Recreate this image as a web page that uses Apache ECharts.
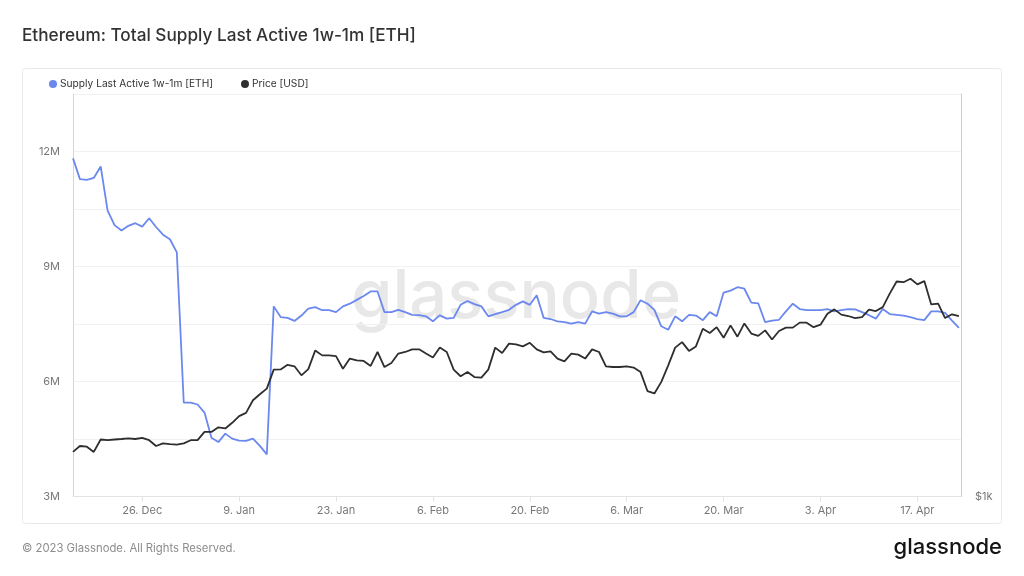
<!DOCTYPE html>
<html>
<head>
<meta charset="utf-8">
<script src="https://cdn.jsdelivr.net/npm/echarts/dist/echarts.min.js"></script>
<style>
  html, body { margin: 0; padding: 0; background: #ffffff; }
  #chart { width: 1024px; height: 576px; }
</style>
</head>
<body>
<div id="chart"></div>
<script>
// ---- Data ----
const startDate = '2022-12-16'; // first daily observation; last is 2023-04-23
const supplyETH = [
  11.82, 11.28, 11.26, 11.31, 11.61, 10.46, 10.08, 9.94, 10.06, 10.13,
  10.04, 10.26, 10.03, 9.83, 9.71, 9.37, 5.45, 5.45, 5.40, 5.19,
  4.53, 4.42, 4.64, 4.51, 4.46, 4.45, 4.51, 4.32, 4.10, 7.96,
  7.68, 7.66, 7.58, 7.72, 7.90, 7.94, 7.86, 7.86, 7.81, 7.96,
  8.03, 8.13, 8.23, 8.35, 8.35, 7.81, 7.81, 7.87, 7.81, 7.74,
  7.73, 7.70, 7.57, 7.73, 7.64, 7.66, 8.00, 8.10, 8.02, 7.96,
  7.70, 7.76, 7.81, 7.87, 8.00, 8.09, 8.00, 8.25, 7.66, 7.63,
  7.57, 7.55, 7.51, 7.55, 7.51, 7.83, 7.77, 7.81, 7.77, 7.70,
  7.70, 7.81, 8.12, 8.03, 7.87, 7.44, 7.35, 7.70, 7.57, 7.74,
  7.72, 7.60, 7.81, 7.70, 8.32, 8.37, 8.46, 8.42, 8.06, 8.04,
  7.55, 7.59, 7.61, 7.83, 8.03, 7.89, 7.86, 7.86, 7.86, 7.89,
  7.83, 7.86, 7.89, 7.88, 7.81, 7.73, 7.64, 7.89, 7.76, 7.74,
  7.72, 7.68, 7.63, 7.60, 7.83, 7.83, 7.79, 7.59, 7.40
]; // millions of ETH
const priceUSD = [
  1166, 1190, 1187, 1166, 1217, 1214, 1217, 1219, 1222, 1219,
  1224, 1214, 1190, 1201, 1198, 1196, 1201, 1214, 1214, 1249,
  1249, 1269, 1264, 1289, 1319, 1334, 1393, 1422, 1450, 1548,
  1549, 1574, 1566, 1518, 1551, 1654, 1626, 1626, 1622, 1553,
  1608, 1598, 1595, 1568, 1645, 1562, 1584, 1636, 1645, 1660,
  1660, 1636, 1614, 1670, 1645, 1548, 1513, 1535, 1509, 1506,
  1548, 1670, 1639, 1693, 1689, 1677, 1698, 1660, 1643, 1649,
  1608, 1593, 1636, 1630, 1608, 1660, 1645, 1566, 1562, 1562,
  1566, 1559, 1535, 1438, 1426, 1484, 1571, 1670, 1702, 1651,
  1677, 1782, 1756, 1792, 1728, 1803, 1734, 1815, 1753, 1739,
  1772, 1717, 1768, 1789, 1789, 1820, 1820, 1792, 1807, 1877,
  1905, 1871, 1862, 1849, 1855, 1903, 1894, 1920, 2011, 2097,
  2092, 2117, 2076, 2100, 1938, 1943, 1849, 1873, 1862
];
const tickDates = ['2022-12-26', '2023-01-09', '2023-01-23', '2023-02-06', '2023-02-20',
                   '2023-03-06', '2023-03-20', '2023-04-03', '2023-04-17'];
const tickLabels = ['26. Dec', '9. Jan', '23. Jan', '6. Feb', '20. Feb',
                    '6. Mar', '20. Mar', '3. Apr', '17. Apr'];
const supplyName = 'Supply Last Active 1w-1m [ETH]';
const priceName = 'Price [USD]';

// ---- Build ----
const DAY = 86400000;
const t0 = Date.parse(startDate + 'T00:00:00Z');
const times = supplyETH.map((_, i) => t0 + i * DAY);
const supplyData = supplyETH.map((v, i) => [times[i], v * 1e6]);
const priceData = priceUSD.map((v, i) => [times[i], v]);
const tickTimes = tickDates.map(d => Date.parse(d + 'T00:00:00Z'));

const FONT = 'Inter, "Noto Sans", sans-serif';
const chart = echarts.init(document.getElementById('chart'), null, { renderer: 'canvas' });

chart.setOption({
  backgroundColor: '#ffffff',
  animation: false,
  textStyle: { fontFamily: FONT },
  graphic: [
    { type: 'rect', z: -10, shape: { x: 22.5, y: 68.5, width: 979, height: 455, r: 3 },
      style: { fill: '#ffffff', stroke: '#e9e9e9', lineWidth: 1 } },
    { type: 'text', left: 22, top: 27,
      style: { text: 'Ethereum: Total Supply Last Active 1w-1m [ETH]', fill: '#333333',
               font: '500 17.2px ' + FONT } },
    { type: 'text', left: 22, top: 543,
      style: { text: '\u00a9 2023 Glassnode. All Rights Reserved.', fill: '#8c8c8c',
               font: '11.3px ' + FONT } },
    { type: 'text', right: 22, top: 536,
      style: { text: 'glassnode', fill: '#141414', font: '500 22px ' + FONT } },
    { type: 'text', z: 0, x: 516, y: 298,
      style: { text: 'glassnode', fill: '#e8e8e8', font: '500 67px ' + FONT,
               textAlign: 'center', textVerticalAlign: 'middle' } }
  ],
  legend: {
    left: 44, top: 74,
    itemWidth: 8, itemHeight: 8, itemGap: 28,
    icon: 'circle',
    textStyle: { fontSize: 10.2, color: '#333333', fontFamily: FONT, padding: [0, 0, 0, -2] },
    data: [supplyName, priceName]
  },
  grid: { left: 73, right: 63, top: 94, bottom: 79.5, containLabel: false },
  xAxis: {
    type: 'value',
    min: t0,
    max: t0 + 128 * DAY + 0.3 * DAY,
    axisLine: { show: true, lineStyle: { color: '#e3e3e3' } },
    axisTick: { show: true, customValues: tickTimes, length: 5, lineStyle: { color: '#e3e3e3' } },
    splitLine: { show: false },
    axisLabel: {
      customValues: tickTimes,
      color: '#777777', fontSize: 11, margin: 9, fontFamily: FONT,
      formatter: v => {
        const i = tickTimes.indexOf(v);
        return i >= 0 ? tickLabels[i] : '';
      }
    }
  },
  yAxis: [
    {
      type: 'value',
      min: 3e6, max: 13.5e6, interval: 1.5e6,
      position: 'left',
      axisLine: { show: true, lineStyle: { color: '#c9d4f8' } },
      axisTick: { show: false },
      splitLine: { show: true, lineStyle: { color: '#f1f1f1' } },
      axisLabel: {
        color: '#777777', fontSize: 11, margin: 13, fontFamily: FONT,
        formatter: v => (Math.round(v) % 3000000 === 0 ? (v / 1e6) + 'M' : '')
      }
    },
    {
      type: 'log', logBase: 10,
      min: 1000, max: 4000,
      position: 'right',
      axisLine: { show: true, lineStyle: { color: '#cccccc' } },
      axisTick: { show: false },
      splitLine: { show: false },
      axisLabel: {
        color: '#777777', fontSize: 11, margin: 14, fontFamily: FONT,
        formatter: v => (Math.abs(v - 1000) < 1 ? '$1k' : '')
      }
    }
  ],
  series: [
    {
      name: supplyName, type: 'line', yAxisIndex: 0,
      data: supplyData, showSymbol: false, symbol: 'circle',
      itemStyle: { color: '#6b88ee' },
      lineStyle: { color: '#6b88ee', width: 1.8 },
      z: 3
    },
    {
      name: priceName, type: 'line', yAxisIndex: 1,
      data: priceData, showSymbol: false, symbol: 'circle',
      itemStyle: { color: '#2e2e2e' },
      lineStyle: { color: '#2e2e2e', width: 1.8 },
      z: 4
    }
  ]
});
</script>
</body>
</html>
